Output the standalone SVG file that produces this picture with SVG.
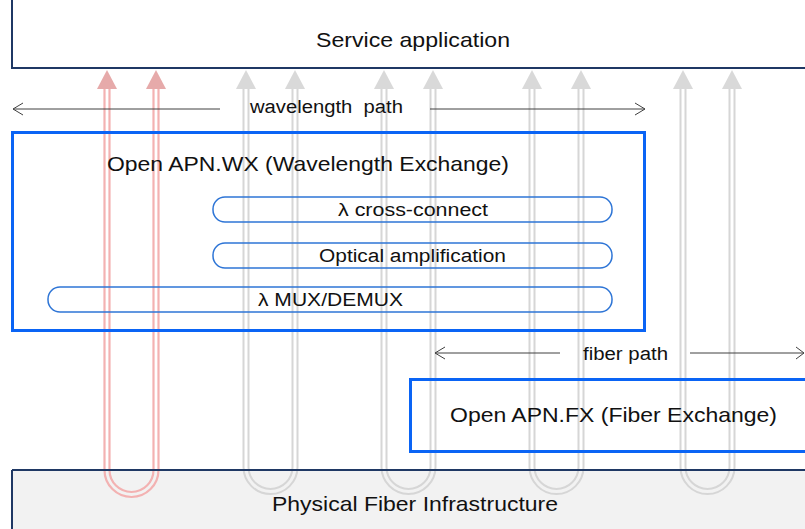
<svg xmlns="http://www.w3.org/2000/svg" width="805" height="529" viewBox="0 0 805 529">
<style>
text{font-family:"Liberation Sans",Arial,sans-serif;fill:#111;}
.t20{font-size:21px;}
.t18{font-size:18px;}
.nav{fill:none;stroke:#1F3864;stroke-width:2;}
.blue{fill:none;stroke:#0A64F5;stroke-width:3;}
.pill{fill:none;stroke:#2E75D6;stroke-width:1.5;}
.gl{fill:none;stroke:#D6D6D6;stroke-width:2;}
.rl{fill:none;stroke:#F3B2B2;stroke-width:2.2;}
.gh{fill:#D9D9D9;}
.rh{fill:#E6AAAA;}
.pl{fill:none;stroke:#404040;stroke-width:1;}
</style>
<rect width="805" height="529" fill="#fff"/>
<g id="physical">
<rect x="12" y="470" width="800" height="70" fill="#F2F2F2"/>
</g>
<g id="connectors">
<path class="rl" d="M104.5 89 V470 A27 27 0 0 0 158.5 470 V89"/>
<path class="rl" d="M109.5 89 V470 A22 22 0 0 0 153.5 470 V89"/>
<polygon class="rh" points="107,70 97,89 117,89"/>
<polygon class="rh" points="156,70 146,89 166,89"/>
<path class="gl" d="M243.5 89 V467 A27 27 0 0 0 297.5 467 V89"/>
<path class="gl" d="M248.5 89 V467 A22 22 0 0 0 292.5 467 V89"/>
<polygon class="gh" points="246,70 236,89 256,89"/>
<polygon class="gh" points="295,70 285,89 305,89"/>
<path class="gl" d="M381.5 89 V467 A27 27 0 0 0 435.5 467 V89"/>
<path class="gl" d="M386.5 89 V467 A22 22 0 0 0 430.5 467 V89"/>
<polygon class="gh" points="384,70 374,89 394,89"/>
<polygon class="gh" points="433,70 423,89 443,89"/>
<path class="gl" d="M529.5 89 V467 A27 27 0 0 0 583.5 467 V89"/>
<path class="gl" d="M534.5 89 V467 A22 22 0 0 0 578.5 467 V89"/>
<polygon class="gh" points="532,70 522,89 542,89"/>
<polygon class="gh" points="581,70 571,89 591,89"/>
<path class="gl" d="M680.5 89 V467 A27 27 0 0 0 734.5 467 V89"/>
<path class="gl" d="M685.5 89 V467 A22 22 0 0 0 729.5 467 V89"/>
<polygon class="gh" points="683,70 673,89 693,89"/>
<polygon class="gh" points="732,70 722,89 742,89"/>
</g>
<g id="physical-border">
<line class="nav" x1="12" y1="470" x2="805" y2="470"/>
<line class="nav" x1="12" y1="470" x2="12" y2="529"/>
<text class="t20" x="415" y="511" text-anchor="middle" textLength="286" lengthAdjust="spacingAndGlyphs">Physical Fiber Infrastructure</text>
</g>
<g id="service">
<rect class="nav" x="12" y="-2" width="800" height="70"/>
<text class="t20" x="413" y="47" text-anchor="middle" textLength="194" lengthAdjust="spacingAndGlyphs">Service application</text>
</g>
<g id="wavelength-path">
<path class="pl" d="M13 109 H220 M23 103 L13 109 L23 115"/>
<path class="pl" d="M430 109 H645 M635 103 L645 109 L635 115"/>
<text class="t18" x="250" y="112.5" textLength="153" lengthAdjust="spacingAndGlyphs" xml:space="preserve">wavelength  path</text>
</g>
<g id="wx">
<rect class="blue" x="12.5" y="132.5" width="632" height="198"/>
<text class="t20" x="107" y="171" textLength="402" lengthAdjust="spacingAndGlyphs">Open APN.WX (Wavelength Exchange)</text>
</g>
<g id="cross-connect">
<rect class="pill" x="213" y="197" width="399" height="25" rx="12"/>
<text class="t18" x="413" y="215.5" text-anchor="middle" textLength="150" lengthAdjust="spacingAndGlyphs">λ cross-connect</text>
</g>
<g id="amplification">
<rect class="pill" x="213" y="243" width="399" height="25" rx="12"/>
<text class="t18" x="412.5" y="262" text-anchor="middle" textLength="187" lengthAdjust="spacingAndGlyphs">Optical amplification</text>
</g>
<g id="mux">
<rect class="pill" x="48" y="287" width="564" height="25" rx="12"/>
<text class="t18" x="330.5" y="305.5" text-anchor="middle" textLength="145" lengthAdjust="spacingAndGlyphs">λ MUX/DEMUX</text>
</g>
<g id="fiber-path">
<path class="pl" d="M435 353 H560 M445 347 L435 353 L445 359"/>
<path class="pl" d="M690 353 H804 M796 347 L804 353 L796 359"/>
<text class="t18" x="583" y="360" textLength="85" lengthAdjust="spacingAndGlyphs">fiber path</text>
</g>
<g id="fx">
<rect class="blue" x="410.5" y="379.5" width="420" height="72"/>
<text class="t20" x="450" y="422" textLength="327" lengthAdjust="spacingAndGlyphs">Open APN.FX (Fiber Exchange)</text>
</g>
</svg>
